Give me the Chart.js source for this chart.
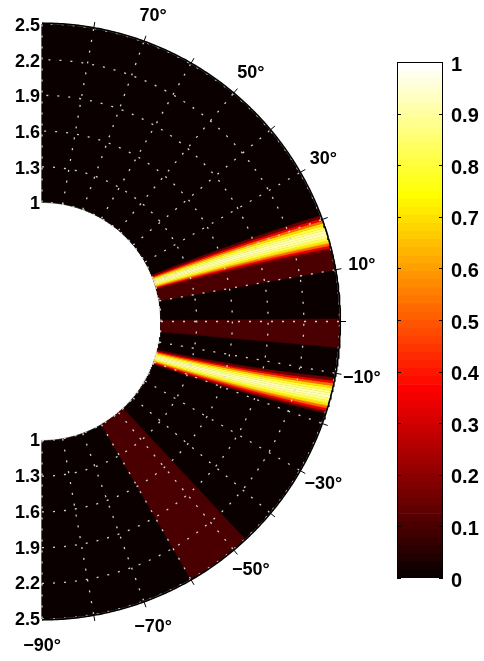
<!DOCTYPE html>
<html><head><meta charset="utf-8">
<script src="https://cdn.jsdelivr.net/npm/chart.js@4/dist/chart.umd.min.js"></script>
<style>
html,body{margin:0;padding:0;background:#fff;width:484px;height:661px;overflow:hidden;}
#main{position:absolute;left:0;top:0;width:484px;height:661px;}
#cbWrap{position:absolute;left:397px;top:50px;width:87px;height:540px;}
canvas{display:block;}
</style></head><body>
<div id="main"><canvas id="polar" width="484" height="661"></canvas></div>
<div id="cbWrap"><canvas id="cbar" width="87" height="540"></canvas></div>
<script>
// ---------------- data ----------------
const radialTicks = [1, 1.3, 1.6, 1.9, 2.2, 2.5];
const gridAngles = [-90, -80, -70, -60, -50, -40, -30, -20, -10, 0, 10, 20, 30, 40, 50, 60, 70, 80, 90];
const tickAngles = [-80, -70, -60, -50, -40, -30, -20, -10, 0, 10, 20, 30, 40, 50, 60, 70, 80];
const angleLabels = [-90, -70, -50, -30, -10, 10, 30, 50, 70];
const rMin = 1, rMax = 2.5;
const zMin = 0, zMax = 1;

// flat-valued sectors (degrees) and their values
const sectorStart = [-60, -5, 10];
const sectorEnd   = [-47, 0.5, 18];
const sectorValue = [0.1, 0.1, 0.1];

// bright beams: centre angle at r = 1 and at r = 2.5, and the value profile across the beam
const beamCenterInner = [19.4, -17.4];
const beamCenterOuter = [17.3, -14.4];
const beamEdges   = [3.5, 3, 2.5, 2, 1.5, 1, 0.5, 0, -0.5, -1, -1.5, -2, -2.5, -3, -3.5];
const beamProfile = [0.15, 0.33, 0.52, 0.7, 0.8, 0.87, 0.92, 0.92, 0.87, 0.8, 0.7, 0.52, 0.33, 0.15];

const colorbarTicks = [0, 0.1, 0.2, 0.3, 0.4, 0.5, 0.6, 0.7, 0.8, 0.9, 1];

// ---------------- colour map (hot, 64 levels) ----------------
const NC = 64;
function hot(i) {
  const r = Math.min(1, (i + 1) / 24);
  const g = Math.min(1, Math.max(0, (i + 1 - 24) / 24));
  const b = Math.max(0, (i + 1 - 48) / 16);
  return 'rgb(' + Math.round(r * 255) + ',' + Math.round(g * 255) + ',' + Math.round(b * 255) + ')';
}
function colorFor(v) {
  const t = (v - zMin) / (zMax - zMin);
  return hot(Math.max(0, Math.min(NC - 1, Math.floor(t * NC))));
}

// ---------------- geometry helpers ----------------
function pol(r, deg) { const a = deg * Math.PI / 180; return {x: r * Math.cos(a), y: r * Math.sin(a)}; }
function sectorPolygon(aIn, aOut, bIn, bOut) {
  const pts = [];
  const nR = 16;
  for (let i = 0; i <= nR; i++) {
    const f = i / nR; pts.push(pol(rMin + (rMax - rMin) * f, aIn + (aOut - aIn) * f));
  }
  let steps = Math.max(2, Math.ceil(Math.abs(bOut - aOut) / 0.25));
  for (let j = 1; j < steps; j++) pts.push(pol(rMax, aOut + (bOut - aOut) * j / steps));
  for (let i = nR; i >= 0; i--) {
    const f = i / nR; pts.push(pol(rMin + (rMax - rMin) * f, bIn + (bOut - bIn) * f));
  }
  steps = Math.max(2, Math.ceil(Math.abs(bIn - aIn) / 0.25));
  for (let j = 1; j < steps; j++) pts.push(pol(rMin, bIn + (aIn - bIn) * j / steps));
  return pts;
}
function fillSet(pts, v, order) {
  const c = colorFor(v);
  return {data: pts, showLine: true, fill: 'shape', backgroundColor: c, borderColor: c,
          borderWidth: 0.6, pointRadius: 0, tension: 0, order: order};
}
function lineSet(pts, color, width, dash, order) {
  return {data: pts, showLine: true, fill: false, borderColor: color, borderWidth: width,
          borderDash: dash, pointRadius: 0, tension: 0, order: order};
}

// ---------------- datasets ----------------
const datasets = [];
datasets.push(fillSet(sectorPolygon(-90, -90, 90, 90), zMin, 100));
for (let k = 0; k < sectorStart.length; k++) {
  datasets.push(fillSet(sectorPolygon(sectorStart[k], sectorStart[k], sectorEnd[k], sectorEnd[k]), sectorValue[k], 90));
}
for (let b = 0; b < beamCenterInner.length; b++) {
  for (let j = 0; j < beamProfile.length; j++) {
    const lo = beamEdges[j + 1], hi = beamEdges[j];
    datasets.push(fillSet(sectorPolygon(beamCenterInner[b] + lo, beamCenterOuter[b] + lo,
                                        beamCenterInner[b] + hi, beamCenterOuter[b] + hi), beamProfile[j], 80));
  }
}
const gridColor = 'rgba(210,210,210,1)';
for (const r of radialTicks) {
  const pts = [];
  for (let a = -90; a <= 90; a += 0.5) pts.push(pol(r, a));
  datasets.push(lineSet(pts, gridColor, 1.3, [2, 9], 20));
}
for (const a of gridAngles) {
  datasets.push(lineSet([pol(rMin, a), pol(rMax, a)], gridColor, 1.3, [2, 9], 20));
}
{
  const pts = [];
  for (let a = -90; a <= 90; a += 0.5) pts.push(pol(rMax + 0.007, a));
  datasets.push(lineSet(pts, '#000', 1.6, [], 10));
}
for (const a of tickAngles) {
  datasets.push(lineSet([pol(rMax - 0.005, a), pol(rMax + 0.055, a)], '#000', 1, [], 10));
}

// ---------------- layout of the polar axes ----------------
const CX = 42, CY = 321.5, PX = 119, W = 484, H = 661;
const FONT = '"Liberation Sans", Arial, sans-serif';

const labelPlugin = {
  id: 'polarLabels',
  afterDraw(chart) {
    const ctx = chart.ctx, xs = chart.scales.x, ys = chart.scales.y;
    ctx.save();
    ctx.fillStyle = '#000';
    ctx.font = 'bold 18px ' + FONT;
    ctx.textAlign = 'right';
    ctx.textBaseline = 'middle';
    const x0 = xs.getPixelForValue(0);
    for (const r of radialTicks) {
      ctx.fillText(String(r), x0 - 2, ys.getPixelForValue(r) + 2);
      ctx.fillText(String(r), x0 - 2, ys.getPixelForValue(-r) + 1);
    }
    ctx.textAlign = 'center';
    for (const a of angleLabels) {
      const p = pol(2.73, a);
      ctx.fillText((a < 0 ? '\u2212' + (-a) : String(a)) + '\u00B0', xs.getPixelForValue(p.x), ys.getPixelForValue(p.y));
    }
    ctx.restore();
  }
};

new Chart(document.getElementById('polar'), {
  type: 'scatter',
  data: {datasets: datasets},
  options: {
    responsive: false, maintainAspectRatio: false, devicePixelRatio: 1, animation: false,
    layout: {padding: 0},
    plugins: {legend: {display: false}, tooltip: {enabled: false}},
    scales: {
      x: {type: 'linear', display: false, min: -CX / PX, max: (W - CX) / PX},
      y: {type: 'linear', display: false, min: -(H - CY) / PX, max: CY / PX}
    }
  },
  plugins: [labelPlugin]
});

// ---------------- colour bar ----------------
const cbSets = [];
for (let i = 0; i < NC; i++) {
  cbSets.push({data: [(zMax - zMin) / NC], backgroundColor: hot(i), borderWidth: 0,
               barPercentage: 1, categoryPercentage: 1});
}
const cbPlugin = {
  id: 'cbFrame',
  afterDraw(chart) {
    const ctx = chart.ctx, a = chart.chartArea, ys = chart.scales.y;
    ctx.save();
    ctx.strokeStyle = '#000';
    ctx.lineWidth = 1;
    for (const t of colorbarTicks) {
      const y = Math.round(ys.getPixelForValue(t)) + 0.5;
      ctx.beginPath();
      ctx.moveTo(a.left, y); ctx.lineTo(a.left + 4, y);
      ctx.moveTo(a.right, y); ctx.lineTo(a.right - 4, y);
      ctx.stroke();
    }
    ctx.strokeRect(a.left + 0.5, a.top + 0.5, a.right - a.left - 1, a.bottom - a.top - 1);
    ctx.fillStyle = '#000';
    ctx.font = 'bold 20px ' + FONT;
    ctx.textAlign = 'left';
    ctx.textBaseline = 'middle';
    for (const t of colorbarTicks) {
      ctx.fillText(String(t), a.right + 8, ys.getPixelForValue(t) + 3);
    }
    ctx.restore();
  }
};
new Chart(document.getElementById('cbar'), {
  type: 'bar',
  data: {labels: [''], datasets: cbSets},
  options: {
    responsive: false, maintainAspectRatio: false, devicePixelRatio: 1, animation: false,
    layout: {padding: {top: 12, bottom: 12, left: 0, right: 41}},
    plugins: {legend: {display: false}, tooltip: {enabled: false}},
    scales: {
      x: {display: false, stacked: true},
      y: {display: false, stacked: true, min: zMin, max: zMax}
    }
  },
  plugins: [cbPlugin]
});
</script>
</body></html>
